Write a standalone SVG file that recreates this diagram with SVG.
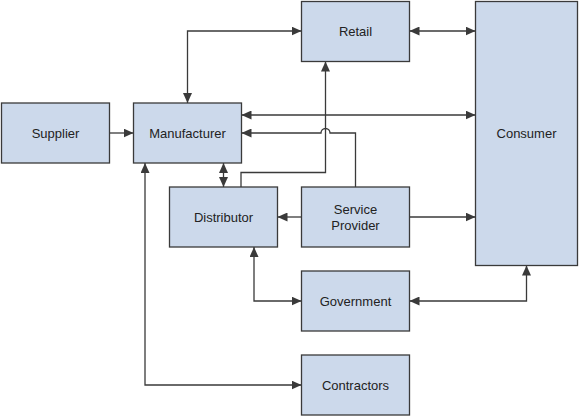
<svg xmlns="http://www.w3.org/2000/svg" width="579" height="416" viewBox="0 0 579 416">
<style>
.box{fill:#ccd9eb;stroke:#3a3a3a;stroke-width:1.3}
.lbl{font-family:"Liberation Sans",Arial,sans-serif;font-size:13px;fill:#222;text-anchor:middle}
.c{fill:none;stroke:#3a3a3a;stroke-width:1.3}
.ab{marker-start:url(#ah);marker-end:url(#ah)}
.ae{marker-end:url(#ah)}
</style>
<defs>
<marker id="ah" markerUnits="userSpaceOnUse" markerWidth="10" markerHeight="9" refX="10" refY="4.5" orient="auto-start-reverse" viewBox="0 0 10 9">
<path d="M0,0 L10,4.5 L0,9 z" fill="#3a3a3a"/>
</marker>
</defs>
<rect width="579" height="416" fill="#fff"/>
<g id="connectors">
<path class="c ab" d="M187.5,103 V31 H301.5"/>
<path class="c ab" d="M409.5,31 H475.5"/>
<path class="c ab" d="M241.5,115 H475.5"/>
<path class="c ae" d="M355.5,187 V133 H330 A4.5,4.5 0 0 0 321,133 H241.5"/>
<path class="c ae" d="M241,187 V172.5 H325.5 V61.5"/>
<path class="c ab" d="M223.5,163 V187"/>
<path class="c ae" d="M301.5,217 H277.5"/>
<path class="c ae" d="M409.5,217 H475.5"/>
<path class="c ab" d="M254,247 V301 H301.5"/>
<path class="c ab" d="M409.5,301 H526.5 V265.5"/>
<path class="c ae" d="M109.5,133 H133.5"/>
<path class="c ab" d="M145,163 V385 H301.5"/>
</g>
<g id="supplier"><rect class="box" x="1.5" y="103" width="108" height="60"/><text class="lbl" x="55.5" y="137.5">Supplier</text></g>
<g id="manufacturer"><rect class="box" x="133.5" y="103" width="108" height="60"/><text class="lbl" x="187.5" y="137.5">Manufacturer</text></g>
<g id="retail"><rect class="box" x="301.5" y="1.5" width="108" height="60"/><text class="lbl" x="355.5" y="35.5">Retail</text></g>
<g id="consumer"><rect class="box" x="475.5" y="1.5" width="102" height="264"/><text class="lbl" x="526.5" y="137.5">Consumer</text></g>
<g id="distributor"><rect class="box" x="169.5" y="187" width="108" height="60"/><text class="lbl" x="223.5" y="221.5">Distributor</text></g>
<g id="service-provider"><rect class="box" x="301.5" y="187" width="108" height="60"/><text class="lbl" x="355.5" y="213.5">Service</text><text class="lbl" x="355.5" y="229.5">Provider</text></g>
<g id="government"><rect class="box" x="301.5" y="271" width="108" height="60"/><text class="lbl" x="355.5" y="305.5">Government</text></g>
<g id="contractors"><rect class="box" x="301.5" y="355" width="108" height="60"/><text class="lbl" x="355.5" y="389.5">Contractors</text></g>
</svg>
